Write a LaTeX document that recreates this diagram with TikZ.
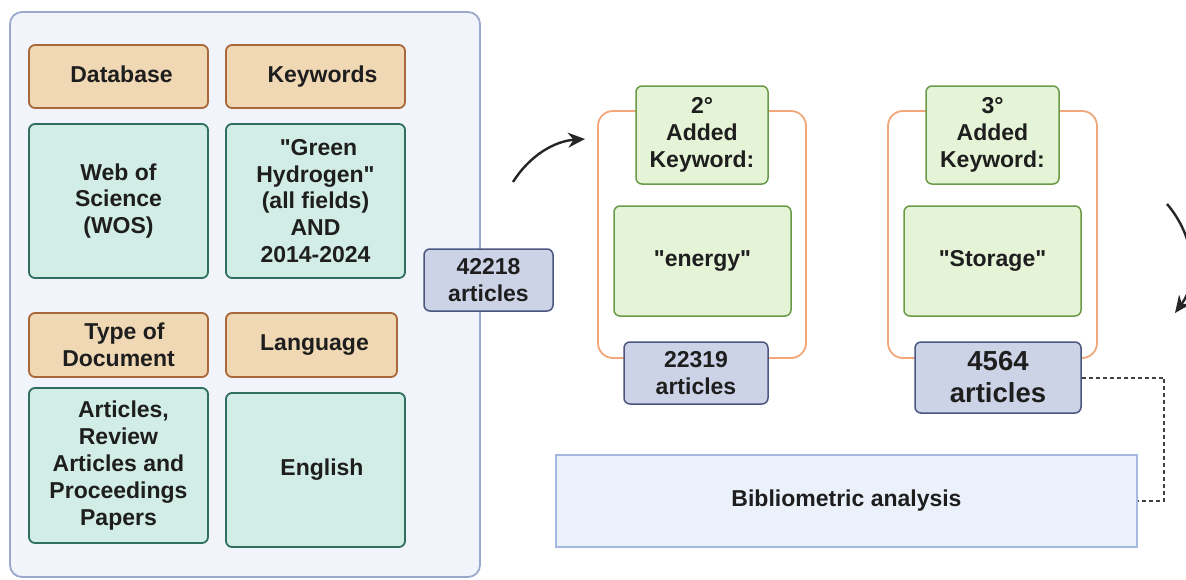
\documentclass[tikz,border=0pt]{standalone}
\usepackage{fontspec}
\setmainfont{Liberation Sans}[Ligatures=TeXOff]
\usetikzlibrary{arrows.meta}
\definecolor{panelfill}{HTML}{F1F4FA}
\definecolor{paneldraw}{HTML}{9AA8CC}
\definecolor{tanfill}{HTML}{F0D8B4}
\definecolor{tandraw}{HTML}{A8683A}
\definecolor{tealfill}{HTML}{D2ECE6}
\definecolor{tealdraw}{HTML}{2F6F5F}
\definecolor{cntfill}{HTML}{CDD3E7}
\definecolor{cntdraw}{HTML}{4A5680}
\definecolor{grnfill}{HTML}{E5F3D6}
\definecolor{grndraw}{HTML}{6A9A45}
\definecolor{orng}{HTML}{F2A77A}
\definecolor{bibfill}{HTML}{EAF1FB}
\definecolor{bibdraw}{HTML}{A5B8E0}
\definecolor{txt}{HTML}{1E1E1E}
\begin{document}
\begin{tikzpicture}[x=1pt,y=-1pt,
  base/.style={rounded corners=6pt, line width=1.8pt, align=center, inner sep=1pt,
    text=txt, font=\fontsize{23}{26.8}\selectfont\bfseries},
  tanbox/.style={base, fill=tanfill, draw=tandraw},
  tealbox/.style={base, fill=tealfill, draw=tealdraw},
  cntbox/.style={base, fill=cntfill, draw=cntdraw, line width=1.5pt},
  grnbox/.style={base, fill=grnfill, draw=grndraw, line width=1.5pt},
  bibbox/.style={base, fill=bibfill, draw=bibdraw, rounded corners=0pt, line width=1.5pt},
  frame/.style={draw=orng, line width=1.8pt, rounded corners=15pt},
  curvearrow/.style={draw=black!85, line width=2.4pt, -{Stealth[length=17pt,width=15pt]}},
  dashline/.style={draw=black!75, line width=2pt, dash pattern=on 4pt off 3pt}
]
\useasboundingbox (0,0) rectangle (1186,579);
\clip (0,0) rectangle (1186,579);

% left panel
\draw[fill=panelfill, draw=paneldraw, line width=1.8pt, rounded corners=12pt] (10,12) rectangle (480,577);

\node[tanbox, minimum width=179pt, minimum height=63pt] (db) at (118.5,76.5) {\hspace*{6pt}Database\vphantom{gy}};
\node[tanbox, minimum width=179pt, minimum height=63pt] (kw) at (315.5,76.5) {\hspace*{14pt}Keywords\vphantom{gy}};
\node[tealbox, minimum width=179pt, minimum height=154pt] (wos) at (118.5,201) {Web of\\Science\\(WOS)};
\node[tealbox, minimum width=179pt, minimum height=154pt] (gh) at (315.5,201) {\hspace*{6pt}"Green\\Hydrogen"\\(all fields)\\AND\\2014-2024};
\node[tanbox, minimum width=179pt, minimum height=64pt] (type) at (118.5,345) {\hspace*{12pt}Type of\\Document};
\node[tanbox, minimum width=171pt, minimum height=64pt] (lang) at (311.5,345) {\hspace*{6pt}Language\vphantom{gy}};
\node[tealbox, minimum width=179pt, minimum height=155pt] (art) at (118.5,465.5) {\hspace*{10pt}Articles,\\Review\\Articles and\\Proceedings\\Papers};
\node[tealbox, minimum width=179pt, minimum height=154pt] (eng) at (315.5,470) {\hspace*{13pt}English\vphantom{gy}};

\node[cntbox, minimum width=129pt, minimum height=62pt] (n42218) at (488.5,280) {42218\\articles};

% step 2
\draw[frame] (598,111) rectangle (806,358);
\node[grnbox, minimum width=132pt, minimum height=98pt] (kw2) at (702,135) {2°\\Added\\Keyword:};
\node[grnbox, minimum width=177pt, minimum height=110pt] (energy) at (702.5,261) {"energy"\vphantom{Ay}};
\node[cntbox, minimum width=144pt, minimum height=62pt] (n22319) at (696,373) {22319\\articles};

% step 3
\draw[frame] (888,111) rectangle (1097,358);
\node[grnbox, minimum width=133pt, minimum height=98pt] (kw3) at (992.5,135) {3°\\Added\\Keyword:};
\node[grnbox, minimum width=177pt, minimum height=110pt] (storage) at (992.5,261) {"Storage"\vphantom{Ay}};
\node[cntbox, minimum width=166pt, minimum height=71pt, font=\fontsize{27.5}{32}\selectfont\bfseries] (n4564) at (998,377.5) {4564\\articles};

% bibliometric
\node[bibbox, minimum width=581pt, minimum height=92pt] (bib) at (846.5,501) {Bibliometric analysis\vphantom{Ay}};

% connectors
\coordinate (a1s) at (513,182);
\coordinate (a1e) at (585,139);
\draw[curvearrow] (a1s) .. controls (530,155) and (555,141) .. (a1e);

\coordinate (a2s) at (1167,204);
\coordinate (a2e) at (1175,313);
\draw[curvearrow] (a2s) .. controls (1196,238) and (1198,282) .. (a2e);

\coordinate (dx) at (1164,0);
\draw[dashline] (n4564.east) -- (n4564.east -| dx) -- (bib.east -| dx) -- (bib.east);
\end{tikzpicture}
\end{document}
